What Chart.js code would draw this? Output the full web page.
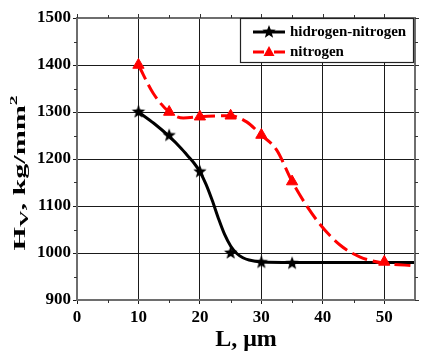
<!DOCTYPE html>
<html>
<head>
<meta charset="utf-8">
<script src="https://cdn.jsdelivr.net/npm/chart.js@4"></script>
<style>
  html, body { margin: 0; padding: 0; background: #fff; }
  #wrap { width: 425px; height: 360px; }
</style>
</head>
<body>
<div id="wrap"><canvas id="chart-hv" width="425" height="360"></canvas></div>
<script>
// --- datos ---
const hnL = [10, 15, 20, 25, 30, 35];
const hnHV = [1300, 1250, 1173, 1000, 980, 978];
const nL = [10, 15, 20, 25, 30, 35, 50];
const nHV = [1400, 1300, 1290, 1292, 1251, 1152, 981];

// curvas de ajuste (trazadas a mano sobre la figura)
const hnFitL = [10, 12.5, 15, 17, 18, 19, 20, 21, 22, 23, 24, 25, 26, 27, 28, 30, 35, 45, 55];
const hnFitHV = [1300, 1276, 1248, 1222, 1207, 1192, 1173, 1146, 1112, 1074, 1040, 1015, 999, 990, 985, 981, 980, 980, 980];
const nFitL = [10, 12.4, 15, 17.3, 20, 24.9, 27.6, 30, 32.5, 35, 39, 42.8, 46, 50, 55];
const nFitHV = [1400, 1340, 1300, 1287, 1290, 1292, 1279, 1251, 1219, 1152, 1070, 1017, 992, 978, 973];

const xTicks = [0, 10, 20, 30, 40, 50];
const yTicks = [900, 1000, 1100, 1200, 1300, 1400, 1500];
const xMinor = [5, 15, 25, 35, 45];
const yMinor = [950, 1050, 1150, 1250, 1350, 1450];

const seriesNames = ['hidrogen-nitrogen', 'nitrogen'];
const SERIF = "'Liberation Serif', 'DejaVu Serif', serif";

const pts = (xs, ys) => xs.map((x, i) => ({ x, y: ys[i] }));

function makeStar(r, color) {
  const c = document.createElement('canvas');
  c.width = c.height = 2 * r + 2;
  const g = c.getContext('2d');
  g.translate(r + 1, r + 1);
  g.fillStyle = color;
  g.beginPath();
  for (let i = 0; i < 10; i++) {
    const rad = i % 2 ? r * 0.42 : r;
    const a = -Math.PI / 2 + i * Math.PI / 5;
    g.lineTo(rad * Math.cos(a), rad * Math.sin(a));
  }
  g.closePath();
  g.fill();
  return c;
}
const star = makeStar(7, '#000');

// marco, ticks menores, leyenda y títulos
const decor = {
  id: 'decor',
  afterDatasetsDraw(chart) {
    const { ctx, chartArea: a, scales: { x, y } } = chart;
    ctx.save();
    // marco
    ctx.strokeStyle = '#6e6e6e';
    ctx.lineWidth = 2;
    ctx.strokeRect(a.left, a.top, a.right - a.left, a.bottom - a.top);
    // ticks menores
    ctx.strokeStyle = '#333';
    ctx.lineWidth = 1;
    ctx.beginPath();
    xMinor.forEach(v => {
      const px = Math.round(x.getPixelForValue(v)) + 0.5;
      ctx.moveTo(px, a.bottom); ctx.lineTo(px, a.bottom + 3);
      ctx.moveTo(px, a.top); ctx.lineTo(px, a.top - 3);
    });
    yMinor.forEach(v => {
      const py = Math.round(y.getPixelForValue(v)) + 0.5;
      ctx.moveTo(a.left, py); ctx.lineTo(a.left - 3, py);
      ctx.moveTo(a.right, py); ctx.lineTo(a.right + 3, py);
    });
    // ticks mayores arriba / derecha
    xTicks.forEach(v => {
      const px = Math.round(x.getPixelForValue(v)) + 0.5;
      ctx.moveTo(px, a.top); ctx.lineTo(px, a.top - 4);
    });
    yTicks.forEach(v => {
      const py = Math.round(y.getPixelForValue(v)) + 0.5;
      ctx.moveTo(a.right, py); ctx.lineTo(a.right + 4, py);
    });
    ctx.stroke();

    // leyenda
    const lx = a.right - 175, ly = a.top, lw = 173, lh = 44;
    ctx.fillStyle = '#fff';
    ctx.fillRect(lx, ly, lw, lh);
    ctx.strokeStyle = '#222';
    ctx.lineWidth = 1.2;
    ctx.strokeRect(lx + 0.5, ly + 0.5, lw, lh);

    const rows = [ly + 14, ly + 34];
    // negro
    ctx.strokeStyle = '#000';
    ctx.lineWidth = 3;
    ctx.beginPath();
    ctx.moveTo(lx + 13, rows[0]); ctx.lineTo(lx + 45, rows[0]);
    ctx.stroke();
    ctx.drawImage(star, lx + 29 - 8, rows[0] - 8);
    // rojo
    ctx.strokeStyle = '#ff0000';
    ctx.beginPath();
    ctx.moveTo(lx + 13, rows[1]); ctx.lineTo(lx + 24, rows[1]);
    ctx.moveTo(lx + 34, rows[1]); ctx.lineTo(lx + 45, rows[1]);
    ctx.stroke();
    ctx.fillStyle = '#ff0000';
    ctx.beginPath();
    ctx.moveTo(lx + 29, rows[1] - 6);
    ctx.lineTo(lx + 34.5, rows[1] + 4);
    ctx.lineTo(lx + 23.5, rows[1] + 4);
    ctx.closePath();
    ctx.fill();

    ctx.fillStyle = '#000';
    ctx.font = `bold 15px ${SERIF}`;
    ctx.textBaseline = 'middle';
    ctx.textAlign = 'left';
    ctx.fillText(seriesNames[0], lx + 50, rows[0]);
    ctx.fillText(seriesNames[1], lx + 50, rows[1]);

    // título eje x
    ctx.font = `bold 24px ${SERIF}`;
    ctx.textAlign = 'center';
    ctx.textBaseline = 'alphabetic';
    ctx.fillText('L, \u03bcm', (a.left + a.right) / 2, 346);

    // título eje y (Hv, kg/mm²), estirado como en la figura
    const parts = [
      { t: 'H', size: 17, dy: 0 },
      { t: 'V', size: 13, dy: 3 },
      { t: ', kg/mm', size: 17, dy: 0 },
      { t: '2', size: 11, dy: -8 }
    ];
    let w = 0;
    parts.forEach(p => { ctx.font = `bold ${p.size}px ${SERIF}`; p.w = ctx.measureText(p.t).width; w += p.w; });
    ctx.translate(25, 173);
    ctx.rotate(-Math.PI / 2);
    ctx.scale(155 / w, 1);
    ctx.textAlign = 'left';
    let cx = -w / 2;
    parts.forEach(p => {
      ctx.font = `bold ${p.size}px ${SERIF}`;
      ctx.fillText(p.t, cx, p.dy);
      cx += p.w;
    });
    ctx.restore();
  }
};

Chart.defaults.font.family = SERIF;
Chart.defaults.color = '#000';

new Chart(document.getElementById('chart-hv'), {
  type: 'scatter',
  data: {
    datasets: [
      {
        label: seriesNames[1] + ' markers',
        data: pts(nL, nHV),
        pointStyle: 'triangle',
        pointRadius: 6.5,
        pointBackgroundColor: '#ff0000',
        pointBorderColor: '#ff0000',
        pointBorderWidth: 1,
        showLine: false,
        order: 0
      },
      {
        label: seriesNames[1],
        data: pts(nFitL, nFitHV),
        showLine: true,
        borderColor: '#ff0000',
        borderWidth: 3,
        borderDash: [16, 6],
        pointRadius: 0,
        cubicInterpolationMode: 'monotone',
        order: 1
      },
      {
        label: seriesNames[0] + ' markers',
        data: pts(hnL, hnHV),
        pointStyle: star,
        showLine: false,
        order: 2
      },
      {
        label: seriesNames[0],
        data: pts(hnFitL, hnFitHV),
        showLine: true,
        borderColor: '#000',
        borderWidth: 3,
        pointRadius: 0,
        cubicInterpolationMode: 'monotone',
        order: 3
      }
    ]
  },
  options: {
    responsive: false,
    animation: false,
    layout: { padding: { left: 0, right: 10, top: 18, bottom: 0 } },
    plugins: { legend: { display: false }, tooltip: { enabled: false } },
    scales: {
      x: {
        type: 'linear',
        min: 0, max: 55,
        afterBuildTicks: s => { s.ticks = xTicks.map(v => ({ value: v })); },
        afterFit: s => { s.height = 60; },
        grid: { color: '#1a1a1a', lineWidth: 1, tickLength: 4, drawTicks: true },
        border: { color: '#6e6e6e', width: 2 },
        ticks: { font: { size: 17, weight: 'bold' }, color: '#000', padding: 3, maxRotation: 0, callback: v => String(v) }
      },
      y: {
        min: 900, max: 1500,
        afterBuildTicks: s => { s.ticks = yTicks.map(v => ({ value: v })); },
        afterFit: s => { s.width = 77; },
        grid: { color: '#1a1a1a', lineWidth: 1, tickLength: 4, drawTicks: true },
        border: { color: '#6e6e6e', width: 2 },
        ticks: { font: { size: 17, weight: 'bold' }, color: '#000', padding: 2, callback: v => String(v) }
      }
    }
  },
  plugins: [decor]
});
</script>
</body>
</html>
